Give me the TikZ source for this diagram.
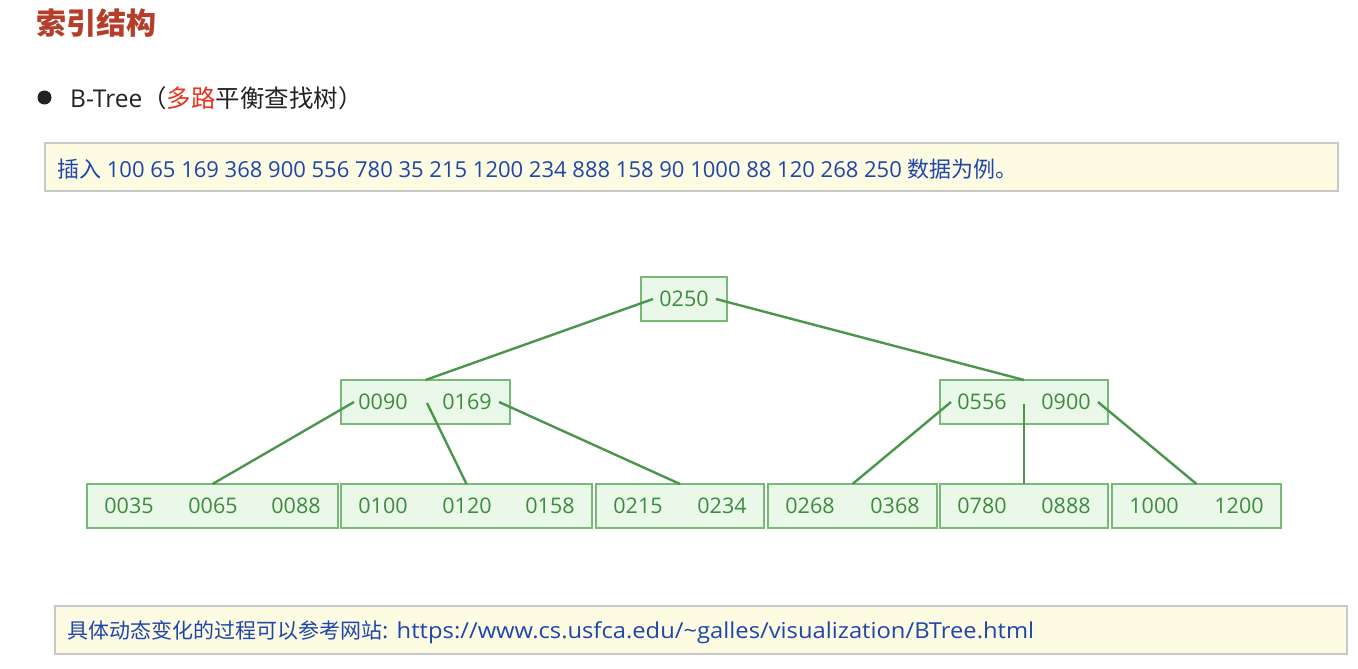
\documentclass[tikz,border=0pt]{standalone}
\usepackage{fontspec}
\setmainfont{Open Sans}
\newfontfamily\cjk{Noto Sans CJK SC}
\newfontfamily\urlfont[FakeStretch=1.08]{Open Sans}
\usetikzlibrary{calc}
\definecolor{titlered}{RGB}{180,62,42}
\definecolor{hlred}{RGB}{232,50,30}
\definecolor{darktext}{RGB}{34,34,34}
\definecolor{noteblue}{RGB}{30,70,170}
\definecolor{notefill}{RGB}{254,251,227}
\definecolor{noteborder}{RGB}{200,200,200}
\definecolor{keygreen}{RGB}{60,140,60}
\definecolor{boxfill}{RGB}{234,248,234}
\definecolor{boxline}{RGB}{120,185,120}
\definecolor{edgegreen}{RGB}{75,150,75}
\begin{document}
\begin{tikzpicture}[x=1pt,y=-1pt,
  keybox/.style={draw=boxline, fill=boxfill, line width=1.4pt, minimum height=44pt, inner sep=0pt, outer sep=0pt, anchor=north west},
  keytext/.style={text=keygreen, font=\fontsize{21.5}{24}\selectfont, inner sep=0pt},
  edge/.style={draw=edgegreen, line width=2.4pt},
  note/.style={draw=noteborder, fill=notefill, line width=1.2pt, minimum height=48pt, inner sep=0pt, outer sep=0pt, anchor=north west},
  notetext/.style={text=noteblue, inner sep=0pt, anchor=west}
]
\path[use as bounding box] (0,0) rectangle (1358,669);

% header
\node[anchor=west, inner sep=0pt, text=titlered, font=\cjk\bfseries\fontsize{30}{34}\selectfont] (title) at (36,23) {索引结构};
\fill[darktext] (44.5,97.5) circle (7);
\node[anchor=west, inner sep=0pt, text=darktext, font=\fontsize{24.5}{28}\selectfont] (btree) at (70,98) {B-Tree{\cjk （{\color{hlred}多路}平衡查找树）}};

% notes
\node[note, minimum width=1293pt] (note1) at (45,143) {};
\node[notetext, font=\fontsize{22}{26}\selectfont] (note1t) at (57,169) {{\cjk 插入} 100 65 169 368 900 556 780 35 215 1200 234 888 158 90 1000 88 120 268 250 {\cjk 数据为例。}};
\node[note, minimum width=1292pt] (note2) at (55,606) {};
\node[notetext, font=\fontsize{21}{26}\selectfont] (note2t) at (67,632) {{\cjk 具体动态变化的过程可以参考网站}{\urlfont\fontsize{22}{26}\selectfont: https://www.cs.usfca.edu/\char`\~galles/visualization/BTree.html}};

% boxes
\node[keybox, minimum width=86pt] (root) at (641,277) {};
\node[keybox, minimum width=169pt] (ml) at (341,380) {};
\node[keybox, minimum width=168pt] (mr) at (940,380) {};
\node[keybox, minimum width=251pt] (l1) at (87,484) {};
\node[keybox, minimum width=251pt] (l2) at (341,484) {};
\node[keybox, minimum width=168pt] (l3) at (596,484) {};
\node[keybox, minimum width=169pt] (l4) at (768,484) {};
\node[keybox, minimum width=168pt] (l5) at (940,484) {};
\node[keybox, minimum width=169pt] (l6) at (1112,484) {};

% keys
\node[keytext] (k0250) at (684,299) {0250};
\node[keytext] (k0090) at (383,402) {0090};
\node[keytext] (k0169) at (467,402) {0169};
\node[keytext] (k0556) at (982,402) {0556};
\node[keytext] (k0900) at (1066,402) {0900};
\node[keytext] (k0035) at (129,506) {0035};
\node[keytext] (k0065) at (213,506) {0065};
\node[keytext] (k0088) at (296,506) {0088};
\node[keytext] (k0100) at (383,506) {0100};
\node[keytext] (k0120) at (467,506) {0120};
\node[keytext] (k0158) at (550,506) {0158};
\node[keytext] (k0215) at (638,506) {0215};
\node[keytext] (k0234) at (722,506) {0234};
\node[keytext] (k0268) at (810,506) {0268};
\node[keytext] (k0368) at (895,506) {0368};
\node[keytext] (k0780) at (982,506) {0780};
\node[keytext] (k0888) at (1066,506) {0888};
\node[keytext] (k1000) at (1154,506) {1000};
\node[keytext] (k1200) at (1239,506) {1200};

% pointer coordinates
\coordinate (rp1) at (653,299);
\coordinate (rp2) at (716,299);
\coordinate (mlp1) at (354,402);
\coordinate (mlp2) at (427,403);
\coordinate (mlp3) at (499,402);
\coordinate (mrp1) at (951,402);
\coordinate (mrp2) at (1024,404);
\coordinate (mrp3) at (1098,402);

% connectors
\draw[edge] (rp1) -- (ml.north);
\draw[edge] (rp2) -- (mr.north);
\draw[edge] (mlp1) -- (l1.north);
\draw[edge] (mlp2) -- (l2.north);
\draw[edge] (mlp3) -- (l3.north);
\draw[edge] (mrp1) -- (l4.north);
\draw[edge] (mrp2) -- (l5.north);
\draw[edge] (mrp3) -- (l6.north);
\end{tikzpicture}
\end{document}
